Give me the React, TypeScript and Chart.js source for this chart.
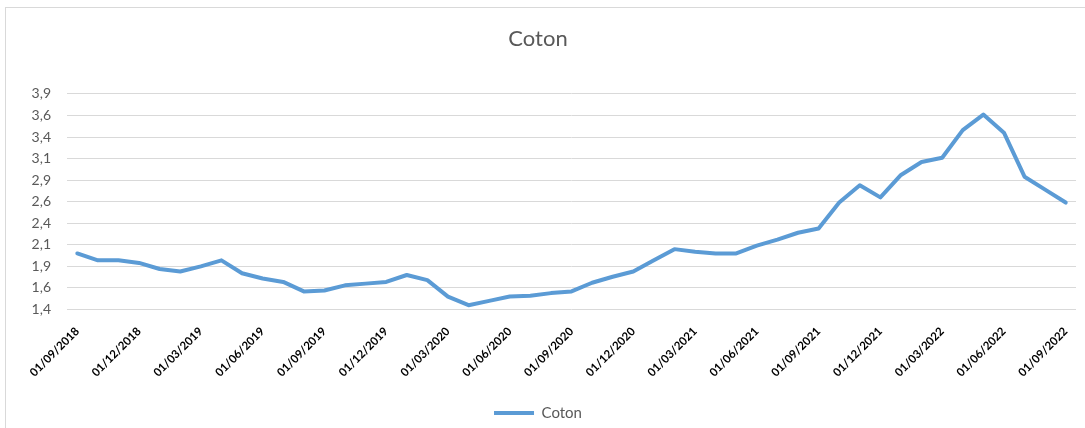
import React, { useEffect, useRef } from "react";
import { Chart, registerables } from "chart.js";

Chart.register(...registerables);

const categories: string[] = [
  "01/09/2018", "01/10/2018", "01/11/2018", "01/12/2018", "01/01/2019", "01/02/2019",
  "01/03/2019", "01/04/2019", "01/05/2019", "01/06/2019", "01/07/2019", "01/08/2019",
  "01/09/2019", "01/10/2019", "01/11/2019", "01/12/2019", "01/01/2020", "01/02/2020",
  "01/03/2020", "01/04/2020", "01/05/2020", "01/06/2020", "01/07/2020", "01/08/2020",
  "01/09/2020", "01/10/2020", "01/11/2020", "01/12/2020", "01/01/2021", "01/02/2021",
  "01/03/2021", "01/04/2021", "01/05/2021", "01/06/2021", "01/07/2021", "01/08/2021",
  "01/09/2021", "01/10/2021", "01/11/2021", "01/12/2021", "01/01/2022", "01/02/2022",
  "01/03/2022", "01/04/2022", "01/05/2022", "01/06/2022", "01/07/2022", "01/08/2022",
  "01/09/2022",
];

const cotonValues: number[] = [
  2.05, 1.97, 1.97, 1.94, 1.87, 1.84, 1.90, 1.97, 1.82, 1.76, 1.72, 1.61,
  1.62, 1.68, 1.70, 1.72, 1.80, 1.74, 1.55, 1.45, 1.50, 1.55, 1.56, 1.59,
  1.61, 1.71, 1.78, 1.84, 1.97, 2.10, 2.07, 2.05, 2.05, 2.14, 2.21, 2.29,
  2.34, 2.64, 2.84, 2.70, 2.96, 3.11, 3.16, 3.48, 3.66, 3.45, 2.94, 2.79,
  2.64,
];

const yTickLabels: string[] = ["1,4", "1,6", "1,9", "2,1", "2,4", "2,6", "2,9", "3,1", "3,4", "3,6", "3,9"];

const FONT = "Lato, 'Liberation Sans', sans-serif";

export default function App() {
  const ref = useRef<HTMLCanvasElement | null>(null);

  useEffect(() => {
    if (!ref.current) return;
    const chart = new Chart(ref.current, {
      type: "line",
      data: {
        labels: categories,
        datasets: [
          {
            label: "Coton",
            data: cotonValues,
            borderColor: "#5B9BD5",
            backgroundColor: "#5B9BD5",
            borderWidth: 4,
            pointRadius: 0,
            pointHoverRadius: 0,
            tension: 0,
            borderJoinStyle: "round",
            borderCapStyle: "round",
          },
        ],
      },
      options: {
        animation: false,
        responsive: false,
        devicePixelRatio: 1,
        layout: { padding: { left: 0, right: 9, top: 0, bottom: -2.5 } },
        plugins: {
          title: {
            display: true,
            text: "Coton",
            color: "#595959",
            font: { family: FONT, size: 22, weight: "normal" },
            padding: { top: 26, bottom: 41.5 },
          },
          legend: {
            display: true,
            position: "bottom",
            labels: {
              color: "#595959",
              font: { family: FONT, size: 15 },
              usePointStyle: true,
              pointStyle: "line",
              pointStyleWidth: 40,
              padding: 4,
            },
          },
          tooltip: { enabled: false },
        },
        scales: {
          x: {
            offset: true,
            grid: { display: false },
            border: { display: false },
            ticks: {
              autoSkip: false,
              minRotation: 45,
              maxRotation: 45,
              color: "#000000",
              font: { family: FONT, size: 11.5, weight: "bold" },
              padding: 7,
              callback: (_v: any, i: number) => (i % 3 === 0 ? categories[i] : ""),
            },
            afterFit: (s: any) => {
              s.height = 92;
            },
          },
          y: {
            min: 1.4,
            max: 3.9,
            grid: { color: "#d9d9d9", lineWidth: 1, drawTicks: false },
            border: { display: false },
            ticks: {
              stepSize: 0.25,
              color: "#595959",
              font: { family: FONT, size: 14 },
              padding: 16,
              callback: (_v: any, i: number) => yTickLabels[i] ?? "",
            },
            afterFit: (s: any) => {
              s.width = 67;
            },
          },
        },
      },
    });
    return () => chart.destroy();
  }, []);

  return (
    <div style={{ position: "fixed", left: 0, top: 0, width: 1085, height: 428, overflow: "hidden", background: "#fff" }}>
      <canvas ref={ref} width={1085} height={428} style={{ display: "block", width: 1085, height: 428 }} />
      <div
        style={{
          position: "absolute",
          left: 5,
          top: 7,
          width: 1200,
          height: 600,
          border: "1px solid #d9d9d9",
          pointerEvents: "none",
        }}
      />
    </div>
  );
}
